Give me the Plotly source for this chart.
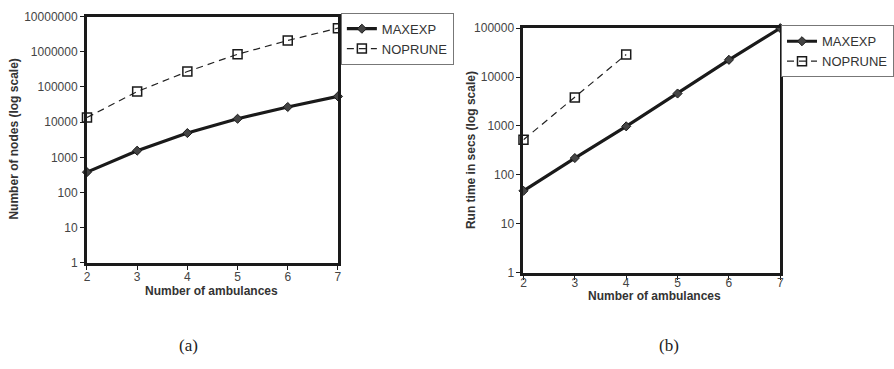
import plotly.graph_objects as go

W, H = 894, 369

ambulances = [2, 3, 4, 5, 6, 7]
nodes_maxexp = [380, 1550, 4900, 12500, 27000, 54000]
nodes_noprune = [13500, 74000, 275000, 850000, 2100000, 4700000]

amb_time_maxexp = [2, 3, 4, 5, 6, 7]
time_maxexp = [47, 220, 980, 4600, 22500, 100000]
amb_time_noprune = [2, 3, 4]
time_noprune = [520, 3800, 29000]

nodes_ticks = [1, 10, 100, 1000, 10000, 100000, 1000000, 10000000]
time_ticks = [1, 10, 100, 1000, 10000, 100000]

FONT = "Liberation Sans, Arial, sans-serif"
TICKCOL = "#444444"

def px_x(p):
    return p / W

def px_y(p):
    return 1 - p / H

fig = go.Figure()

common_solid = dict(mode="lines+markers", line=dict(color="#1a1a1a", width=3.2),
                    marker=dict(symbol="diamond", size=7, color="#444444",
                                line=dict(color="#1a1a1a", width=1)),
                    cliponaxis=False)
common_dash = dict(mode="lines+markers", line=dict(color="#222222", width=1.2, dash="7px,5px"),
                   marker=dict(symbol="square-open", size=9, color="#1a1a1a",
                               line=dict(color="#1a1a1a", width=1.5)),
                   cliponaxis=False)

fig.add_trace(go.Scatter(x=ambulances, y=nodes_maxexp, name="MAXEXP",
                         xaxis="x", yaxis="y", legend="legend", **common_solid))
fig.add_trace(go.Scatter(x=ambulances, y=nodes_noprune, name="NOPRUNE",
                         xaxis="x", yaxis="y", legend="legend", **common_dash))
fig.add_trace(go.Scatter(x=amb_time_maxexp, y=time_maxexp, name="MAXEXP",
                         xaxis="x2", yaxis="y2", legend="legend2", **common_solid))
fig.add_trace(go.Scatter(x=amb_time_noprune, y=time_noprune, name="NOPRUNE",
                         xaxis="x2", yaxis="y2", legend="legend2", **common_dash))

axis_common = dict(showline=True, linewidth=3, linecolor="#1a1a1a", mirror=True,
                   showgrid=False, zeroline=False, ticks="outside", ticklen=4,
                   tickcolor="#1a1a1a", tickwidth=1,
                   tickfont=dict(family=FONT, size=12, color=TICKCOL))

fig.update_layout(
    width=W, height=H,
    margin=dict(l=0, r=0, t=0, b=0),
    paper_bgcolor="white", plot_bgcolor="white",
    font=dict(family=FONT, color=TICKCOL),
    xaxis=dict(domain=[px_x(86), px_x(343)], range=[2, 7], anchor="y",
               tickvals=ambulances, ticklabelstandoff=-3, **axis_common),
    yaxis=dict(domain=[px_y(266), px_y(10)], type="log", range=[0, 7], anchor="x",
               tickvals=nodes_ticks, ticktext=[str(v) for v in nodes_ticks], **axis_common),
    xaxis2=dict(domain=[px_x(533), px_x(796)], range=[2, 7], anchor="y2",
                tickvals=ambulances, ticklabelstandoff=-7, **axis_common),
    yaxis2=dict(domain=[px_y(276), px_y(22)], type="log", range=[0, 5], anchor="x2",
                tickvals=time_ticks, ticktext=[str(v) for v in time_ticks], **axis_common),
    legend=dict(x=px_x(346), y=px_y(6), xanchor="left", yanchor="top",
                bordercolor="#777777", borderwidth=1, bgcolor="white",
                font=dict(family=FONT, size=13, color="#333333"),
                tracegroupgap=0, itemwidth=30),
    legend2=dict(x=px_x(797), y=px_y(19), xanchor="left", yanchor="top",
                 bordercolor="#777777", borderwidth=1, bgcolor="white",
                 font=dict(family=FONT, size=13, color="#333333"),
                 tracegroupgap=0, itemwidth=30),
    showlegend=True,
)

annots = [
    dict(text="<b>Number of ambulances</b>", x=px_x(214), y=px_y(295)),
    dict(text="<b>Number of ambulances</b>", x=px_x(667), y=px_y(300)),
    dict(text="<b>Number of nodes (log scale)</b>", x=px_x(11), y=px_y(137), textangle=-90),
    dict(text="<b>Run time in secs (log scale)</b>", x=px_x(480), y=px_y(149), textangle=-90),
]
for a in annots:
    fig.add_annotation(xref="paper", yref="paper", showarrow=False,
                       xanchor="center", yanchor="middle",
                       font=dict(family=FONT, size=12, color="#333333"), **a)

for txt, xc in [("(a)", 190), ("(b)", 682)]:
    fig.add_annotation(text=txt, xref="paper", yref="paper", x=px_x(xc), y=px_y(352),
                       showarrow=False, xanchor="center", yanchor="middle",
                       font=dict(family="Liberation Serif, DejaVu Serif, serif", size=17,
                                 color="#222222"))

fig.write_html("out.html")
